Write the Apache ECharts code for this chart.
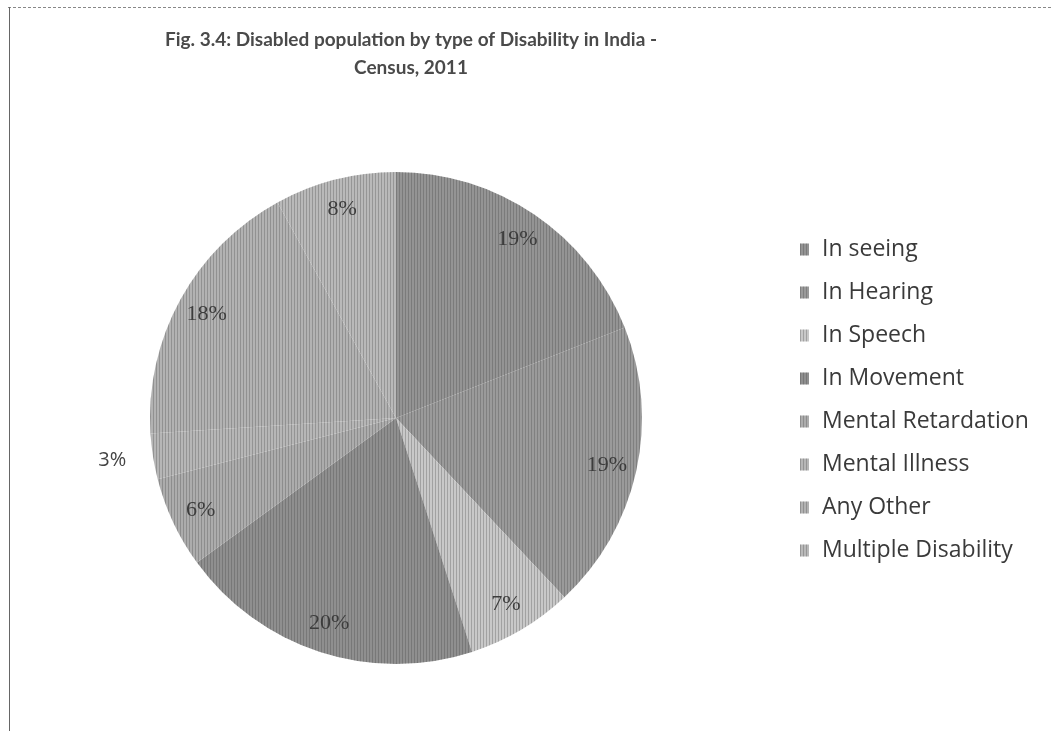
<!DOCTYPE html>
<html><head><meta charset="utf-8">
<script src="https://cdn.jsdelivr.net/npm/echarts@6/dist/echarts.min.js"></script>
<style>html,body{margin:0;padding:0;background:#fff}#c{width:1051px;height:731px}</style>
</head><body><div id="c"></div>
<script>
// Data
const categories = ['In seeing', 'In Hearing', 'In Speech', 'In Movement', 'Mental Retardation', 'Mental Illness', 'Any Other', 'Multiple Disability'];
const shares = [19, 19, 7, 20, 6, 3, 18, 8];
const titleText = 'Fig. 3.4: Disabled population by type of Disability in India -\nCensus, 2011';
const outsideLabelCategory = 'Mental Illness';

// Styles
const sliceColors = ['#949494', '#9a9a9a', '#c8c8c8', '#8f8f8f', '#acacac', '#b6b6b6', '#b2b2b2', '#b9b9b9'];
const stripe = { symbol: 'rect', symbolSize: 1, dashArrayX: [1, 2], dashArrayY: [4, 0], color: 'rgba(60,60,60,0.28)' };

const chart = echarts.init(document.getElementById('c'), null, { renderer: 'canvas' });

const sliceData = categories.map((name, i) => ({
  name, value: shares[i],
  itemStyle: { color: sliceColors[i], decal: stripe }
}));

const labelData = categories.map((name, i) => {
  const item = { name, value: shares[i] };
  if (name === outsideLabelCategory) {
    item.label = { position: 'outside', fontFamily: 'Open Sans', fontSize: 20, color: '#444' };
    item.labelLine = { show: false, length: 22, length2: 0 };
  }
  return item;
});

chart.setOption({
  backgroundColor: '#ffffff',
  animation: false,
  title: {
    text: titleText,
    left: 411, top: 26, textAlign: 'center', padding: 0,
    textStyle: { fontFamily: 'Lato', fontWeight: 'bold', fontSize: 19, lineHeight: 28, color: '#4a4a4a' }
  },
  legend: {
    orient: 'vertical', left: 800, top: 238, padding: 0,
    itemWidth: 9, itemHeight: 12, itemGap: 20, icon: 'rect',
    data: categories,
    selectedMode: false,
    textStyle: { fontFamily: 'Open Sans', fontSize: 23, color: '#3a3a3a', padding: [0, 0, 0, 8] }
  },
  graphic: [
    { type: 'line', silent: true, shape: { x1: 8, y1: 7.5, x2: 1051, y2: 7.5 }, style: { stroke: '#888', lineWidth: 1, lineDash: [3, 2] } },
    { type: 'line', silent: true, shape: { x1: 9.5, y1: 7, x2: 9.5, y2: 731 }, style: { stroke: '#666', lineWidth: 1 } }
  ],
  series: [
    {
      type: 'pie', center: [396, 418], radius: 246, startAngle: 90, clockwise: true,
      label: { show: false }, labelLine: { show: false },
      itemStyle: { borderWidth: 0 },
      emphasis: { disabled: true },
      data: sliceData
    },
    {
      type: 'pie', center: [396, 418], radius: [180, 246], startAngle: 90, clockwise: true,
      silent: true, avoidLabelOverlap: false,
      itemStyle: { color: 'rgba(0,0,0,0)', borderWidth: 0 },
      emphasis: { disabled: true },
      label: { show: true, position: 'inside', formatter: '{c}%', fontFamily: 'Liberation Serif', fontSize: 22, color: '#3c3c3c' },
      labelLine: { show: false },
      data: labelData
    }
  ]
});
</script></body></html>
